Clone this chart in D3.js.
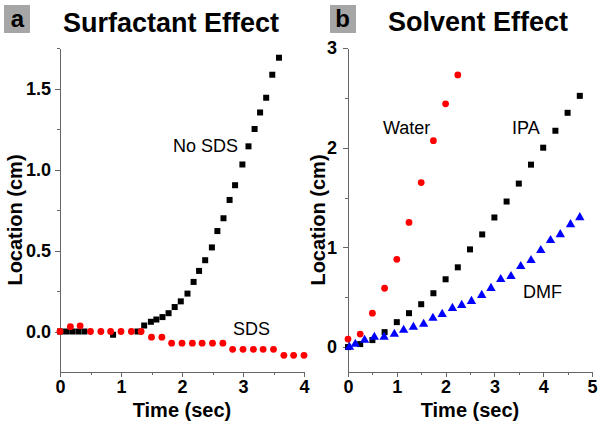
<!DOCTYPE html>
<html lang="en">
<head>
<meta charset="UTF-8">
<title>Surfactant and Solvent Effect</title>
<script src="https://d3js.org/d3.v7.min.js"></script>
<style>
    body { margin: 0; background: #fff; }
    svg { display: block; font-family: "Liberation Sans", Arial, sans-serif; }
    .axis path, .axis line { stroke: #666; stroke-width: 1; shape-rendering: crispEdges; }
    .axis text { font-size: 18px; font-weight: bold; fill: #000; font-family: "Liberation Sans", Arial, sans-serif; }
    .title { font-size: 27px; font-weight: bold; }
    .axlabel { font-size: 20px; font-weight: bold; }
    .note { font-size: 18px; }
</style>
</head>
<body>
<svg width="601" height="425"></svg>
<script>
// panel a: surfactant effect
const noSdsTime = [0, 0.1, 0.2, 0.3, 0.4, 0.87, 1.27, 1.38, 1.49, 1.58, 1.68, 1.78, 1.88, 1.98, 2.09, 2.19, 2.28, 2.38, 2.49, 2.58, 2.68, 2.78, 2.87, 2.99, 3.09, 3.19, 3.28, 3.38, 3.48, 3.59];
const noSdsLoc  = [0, 0, 0, 0, 0, -0.02, 0, 0.037, 0.06, 0.074, 0.089, 0.113, 0.151, 0.186, 0.234, 0.306, 0.374, 0.44, 0.519, 0.62, 0.699, 0.812, 0.903, 1.031, 1.143, 1.25, 1.352, 1.443, 1.585, 1.69];
const sdsTime = [0, 0.17, 0.33, 0.5, 0.67, 0.83, 1.0, 1.17, 1.33, 1.5, 1.67, 1.83, 2.0, 2.17, 2.33, 2.5, 2.67, 2.83, 3.0, 3.17, 3.33, 3.5, 3.67, 3.83, 4.0];
const sdsLoc  = [0, 0.03, 0.035, 0, 0, 0, 0, 0, 0, -0.035, -0.035, -0.072, -0.072, -0.072, -0.072, -0.072, -0.072, -0.11, -0.11, -0.11, -0.11, -0.11, -0.147, -0.147, -0.147];

// panel b: solvent effect
const waterTime = [0, 0.25, 0.5, 0.75, 1.0, 1.25, 1.5, 1.75, 2.0, 2.25];
const waterLoc  = [0.08, 0.13, 0.34, 0.59, 0.88, 1.25, 1.65, 2.07, 2.44, 2.73];
const ipaTime = [0, 0.25, 0.5, 0.75, 1.0, 1.25, 1.5, 1.75, 2.0, 2.25, 2.5, 2.75, 3.0, 3.25, 3.5, 3.75, 4.0, 4.25, 4.5, 4.75];
const ipaLoc  = [0, 0.03, 0.07, 0.15, 0.25, 0.34, 0.43, 0.54, 0.68, 0.8, 0.98, 1.13, 1.3, 1.46, 1.64, 1.83, 2.0, 2.17, 2.35, 2.52];
const dmfTime = [0.03, 0.15, 0.34, 0.54, 0.74, 0.95, 1.14, 1.34, 1.55, 1.74, 1.93, 2.14, 2.33, 2.53, 2.74, 2.93, 3.13, 3.34, 3.54, 3.75, 3.95, 4.15, 4.35, 4.56, 4.75];
const dmfLoc  = [0, 0.03, 0.07, 0.1, 0.1, 0.13, 0.17, 0.2, 0.23, 0.29, 0.33, 0.39, 0.42, 0.46, 0.52, 0.59, 0.68, 0.71, 0.81, 0.87, 0.97, 1.07, 1.13, 1.23, 1.3];

const xTicksA = [0, 1, 2, 3, 4], xMinorA = [0.5, 1.5, 2.5, 3.5];
const yTicksA = [0, 0.5, 1, 1.5], yMinorA = [0.25, 0.75, 1.25, 1.75];
const xTicksB = [0, 1, 2, 3, 4, 5], xMinorB = [0.5, 1.5, 2.5, 3.5, 4.5];
const yTicksB = [0, 1, 2, 3], yMinorB = [0.5, 1.5, 2.5];

const svg = d3.select("svg");
const zip = (t, v) => t.map((d, i) => [d, v[i]]);

const xA = d3.scaleLinear().domain([0, 4]).range([60, 304]);
const yA = d3.scaleLinear().domain([-0.25, 1.75]).range([372, 48]);
const xB = d3.scaleLinear().domain([0, 5]).range([348, 592]);
const yB = d3.scaleLinear().domain([-0.25, 3]).range([372, 48]);

function drawAxes(x, y, xt, xm, yt, ym, yfmt, ypad) {
    const bottom = y.range()[0], left = x.range()[0];
    svg.append("g").attr("class", "axis").attr("transform", `translate(0,${bottom})`)
        .call(d3.axisBottom(x).tickValues(xt).tickFormat(d3.format("d")).tickSize(5).tickSizeOuter(0).tickPadding(3));
    svg.append("g").attr("class", "axis").attr("transform", `translate(0,${bottom})`)
        .call(d3.axisBottom(x).tickValues(xm).tickFormat("").tickSize(3).tickSizeOuter(0))
        .select(".domain").remove();
    svg.append("g").attr("class", "axis").attr("transform", `translate(${left},0)`)
        .call(d3.axisLeft(y).tickValues(yt).tickFormat(d3.format(yfmt)).tickSize(5).tickSizeOuter(0).tickPadding(ypad));
    svg.append("g").attr("class", "axis").attr("transform", `translate(${left},0)`)
        .call(d3.axisLeft(y).tickValues(ym).tickFormat("").tickSize(3).tickSizeOuter(0))
        .select(".domain").remove();
}

drawAxes(xA, yA, xTicksA, xMinorA, yTicksA, yMinorA, ".1f", 4);
drawAxes(xB, yB, xTicksB, xMinorB, yTicksB, yMinorB, "d", 6);

function squares(data, x, y) {
    svg.append("g").selectAll("rect").data(data).enter().append("rect")
        .attr("x", d => x(d[0]) - 3).attr("y", d => y(d[1]) - 3)
        .attr("width", 6).attr("height", 6).attr("fill", "#000");
}
function dots(data, x, y) {
    svg.append("g").selectAll("circle").data(data).enter().append("circle")
        .attr("cx", d => x(d[0])).attr("cy", d => y(d[1])).attr("r", 3.4).attr("fill", "#f00");
}
function triangles(data, x, y) {
    const sym = d3.symbol().type(d3.symbolTriangle).size(38);
    svg.append("g").selectAll("path").data(data).enter().append("path")
        .attr("d", sym).attr("transform", d => `translate(${x(d[0])},${y(d[1])})`)
        .attr("fill", "#00f");
}

squares(zip(noSdsTime, noSdsLoc), xA, yA);
dots(zip(sdsTime, sdsLoc), xA, yA);
dots(zip(waterTime, waterLoc), xB, yB);
squares(zip(ipaTime, ipaLoc), xB, yB);
triangles(zip(dmfTime, dmfLoc), xB, yB);

// panel letters and titles
[[4, "a", 17.5], [330, "b", 342.5]].forEach(([bx, t, cx]) => {
    svg.append("rect").attr("x", bx).attr("y", 5).attr("width", 26).attr("height", 28).attr("fill", "#a6a6a6");
    svg.append("text").attr("x", cx).attr("y", 27).attr("text-anchor", "middle")
        .style("font-size", "24px").style("font-weight", "bold").text(t);
});
svg.append("text").attr("class", "title").attr("x", 63).attr("y", 32).text("Surfactant Effect");
svg.append("text").attr("class", "title").attr("x", 388).attr("y", 31).text("Solvent Effect");

// axis titles
[[182, 22], [470, 325]].forEach(([cx, ly]) => {
    svg.append("text").attr("class", "axlabel").attr("x", cx).attr("y", 417)
        .attr("text-anchor", "middle").text("Time (sec)");
    svg.append("text").attr("class", "axlabel").attr("text-anchor", "middle")
        .attr("transform", `translate(${ly},220) rotate(-90)`).text("Location (cm)");
});

// series notes
const notes = [[173, 152, "No SDS"], [233, 335, "SDS"], [383, 134, "Water"], [512, 134, "IPA"], [523, 298, "DMF"]];
notes.forEach(([x, y, t]) => svg.append("text").attr("class", "note").attr("x", x).attr("y", y).text(t));
</script>
</body>
</html>
